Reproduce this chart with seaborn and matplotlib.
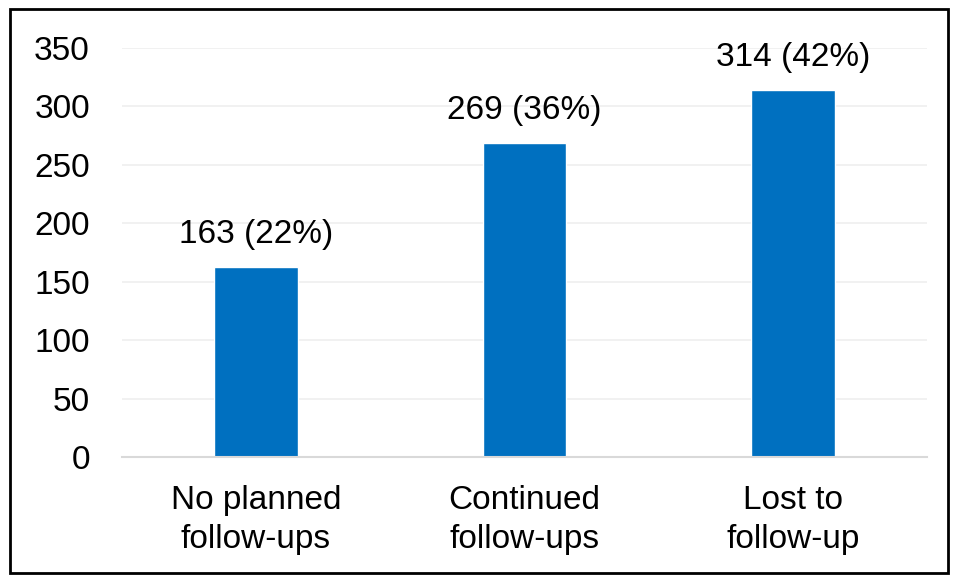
import pandas as pd
import seaborn as sns
import matplotlib.pyplot as plt
from matplotlib.patches import Rectangle

# Chart data
categories = ['No planned\nfollow-ups', 'Continued\nfollow-ups', 'Lost to\nfollow-up']
counts = [163, 269, 314]
percents = [22, 36, 42]
y_ticks = [0, 50, 100, 150, 200, 250, 300, 350]

df = pd.DataFrame({'category': categories, 'count': counts})

sns.set_style('white')
plt.rcParams['font.family'] = ['Liberation Sans', 'DejaVu Sans']

fig = plt.figure(figsize=(9.59, 5.81), dpi=100)
ax = fig.add_axes([0.127, 0.2134, 0.840, 0.7040])

sns.barplot(data=df, x='category', y='count', color='#0070C0', width=0.31,
            saturation=1, ax=ax)

ax.set_ylim(0, 350)
ax.set_xlim(-0.5, 2.5)
ax.set_yticks(y_ticks)
ax.set_xlabel('')
ax.set_ylabel('')
ax.yaxis.grid(True, color='#efefef', linewidth=1.2)
ax.set_axisbelow(True)
for s in ['top', 'right', 'left']:
    ax.spines[s].set_visible(False)
ax.spines['bottom'].set_color('#d9d9d9')
ax.spines['bottom'].set_linewidth(1.5)
ax.tick_params(axis='y', length=0, pad=23, labelsize=24, labelcolor='#000000')
ax.tick_params(axis='x', length=0, pad=20, labelsize=24, labelcolor='#000000')
for lbl in ax.get_xticklabels():
    lbl.set_linespacing(1.35)

# Value labels above the bars
for i, (c, p) in enumerate(zip(counts, percents)):
    ax.annotate(f'{c} ({p}%)', xy=(i, c), xytext=(0, 12), textcoords='offset points',
                ha='center', va='bottom', fontsize=24, color='#000000')

# Figure border
fig.patches.append(Rectangle((0.0104, 0.0138), 0.978, 0.9707, transform=fig.transFigure,
                             fill=False, edgecolor='#000000', linewidth=2))

fig.savefig('out.png', dpi=100)
